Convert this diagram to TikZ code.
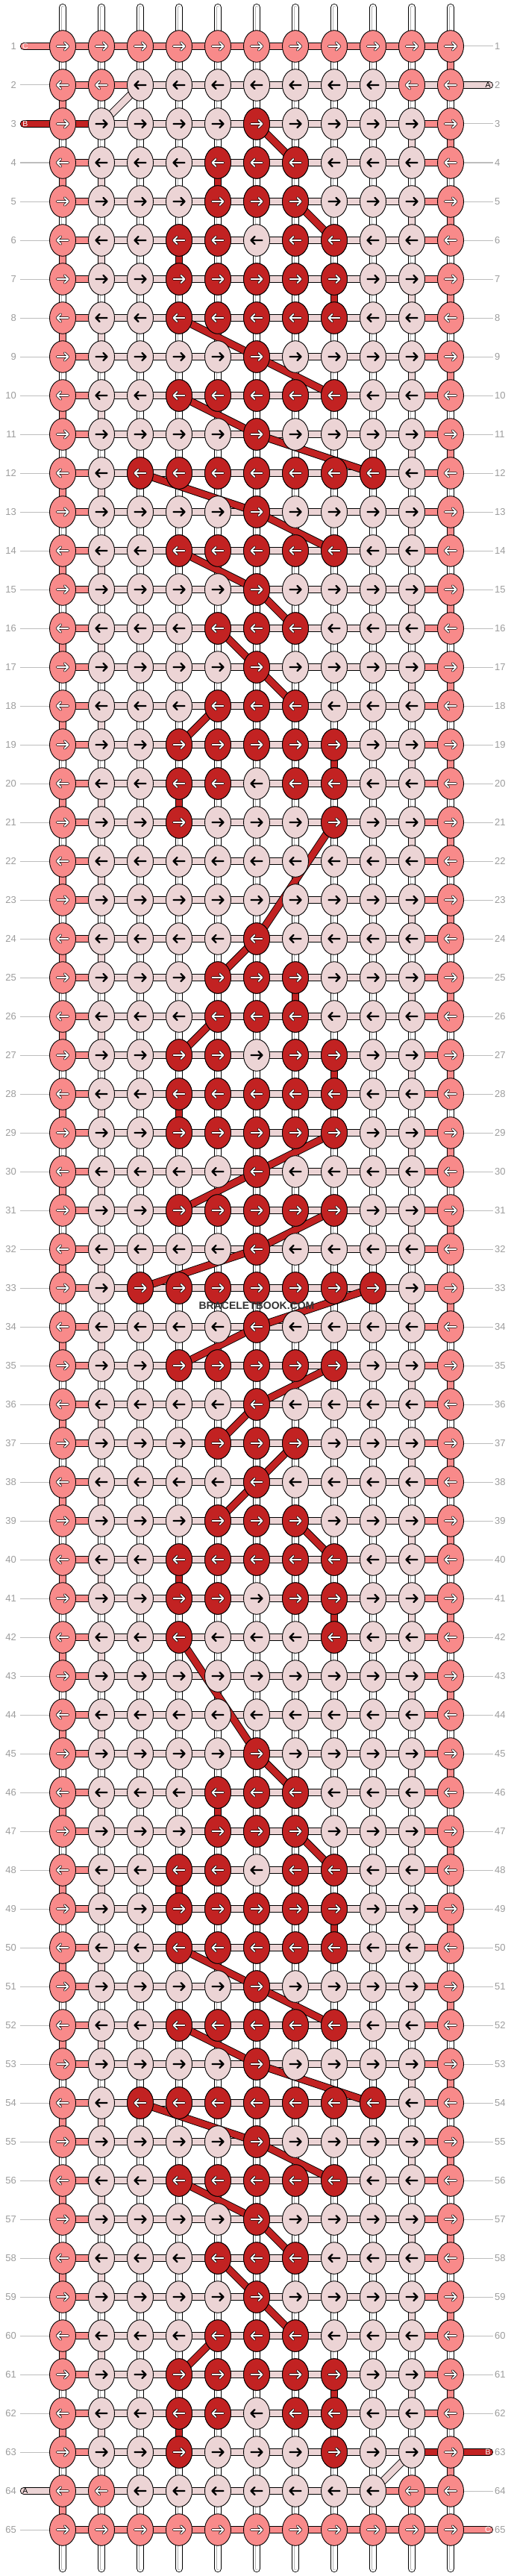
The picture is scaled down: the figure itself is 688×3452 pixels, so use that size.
\documentclass[tikz,border=0pt]{standalone}
\usepackage{fontspec}
\setmainfont{Liberation Sans}
\usetikzlibrary{shapes.geometric}
\definecolor{threadA}{HTML}{ECD4D5}
\definecolor{threadB}{HTML}{C22222}
\definecolor{threadC}{HTML}{F88A8A}
\definecolor{rowgray}{HTML}{9C9C9C}
\definecolor{linegray}{HTML}{BDBDBD}
\begin{document}
\begin{tikzpicture}[x=1pt, y=-1pt,
    band/.style={draw=black, line width=0.9pt, double=#1, double distance=8.5pt},
    basethread/.style={band=white, postaction={draw=black!30, line width=0.5pt, double=white, double distance=3pt}},
    knot/.style={ellipse, draw=black, line width=0.9pt, fill=#1, minimum width=35pt, minimum height=42.6pt, inner sep=0pt},
    darkarrow/.style={draw=black, line width=2.2pt, line cap=round, line join=round},
    lightarrow/.style={draw=black, line width=0.8pt, double=white, double distance=1.8pt, line cap=round, line join=round},
    rowlabel/.style={inner sep=0pt, text=rowgray, font=\fontsize{13}{13}\selectfont},
    rowline/.style={draw=linegray, line width=1pt},
    tailtext/.style={inner sep=0pt, font=\fontsize{10.5}{10.5}\selectfont}]

    \useasboundingbox (0,0) rectangle (688,3452);

    % grid of knot points
    \foreach \r in {1,...,65}
        \foreach \c in {1,...,11}
            \coordinate (p-\r-\c) at ({84+52*(\c-1)}, {62+52*(\r-1)});

    % white threads above and below
    \foreach \c in {1,...,11} {
        \coordinate (top-\c) at ({84+52*(\c-1)}, 10);
        \coordinate (bot-\c) at ({84+52*(\c-1)}, 3442);
        \draw[basethread, line cap=round] (top-\c) -- (p-1-\c);
        \draw[basethread, line cap=round] (p-65-\c) -- (bot-\c);
    }

    % threads between rows
    \foreach \r [evaluate=\r as \s using int(\r+1)] in {1,...,64}
        \foreach \c in {1,...,11}
            \draw[basethread] (p-\r-\c) -- (p-\s-\c);
    \foreach \r [evaluate=\r as \s using int(\r+1)] in {2,4,...,64}
        \draw[band=threadC] (p-\r-1) -- (p-\s-1);
    \foreach \r [evaluate=\r as \s using int(\r+1)] in {1,3,...,63}
        \draw[band=threadC] (p-\r-11) -- (p-\s-11);
    \foreach \r [evaluate=\r as \s using int(\r+1)] in {4,6,...,62}
        \draw[band=threadA] (p-\r-2) -- (p-\s-2);
    \foreach \r [evaluate=\r as \s using int(\r+1)] in {3,5,...,61}
        \draw[band=threadA] (p-\r-10) -- (p-\s-10);
    \foreach \r/\c [evaluate=\r as \s using int(\r+1)] in {4/5,6/4,7/8,19/8,20/4,25/7,27/8,28/4,40/4,41/8,46/5,48/4,49/8,61/8,62/4}
        \draw[band=threadB] (p-\r-\c) -- (p-\s-\c);

    % threads along the rows
    \foreach \r in {1,...,65} {
        \foreach \c [evaluate=\c as \d using int(\c+1)] in {1,...,10} {
            \pgfmathtruncatemacro\edge{(\c==1)||(\c==10)||(\r==1)||(\r==65)}
            \ifnum\edge=1 \def\hc{threadC}\else\def\hc{threadA}\fi
            \draw[band=\hc] (p-\r-\c) -- (p-\r-\d);
        }
    }
    \draw[band=threadC] (p-2-2) -- (p-2-3);
    \draw[band=threadA] (p-2-9) -- (p-2-11);
    \draw[band=threadB] (p-3-1) -- (p-3-2);
    \draw[band=threadB] (p-63-10) -- (p-63-11);
    \draw[band=threadA] (p-64-1) -- (p-64-3);
    \draw[band=threadC] (p-64-9) -- (p-64-10);

    % loose ends
    \coordinate (tail-1) at (32,62);
    \coordinate (tail-3) at (32,166);
    \coordinate (tail-64) at (32,3338);
    \coordinate (tail-2) at (656,114);
    \coordinate (tail-63) at (656,3286);
    \coordinate (tail-65) at (656,3390);
    \draw[band=threadC, line cap=round] (tail-1) -- (p-1-1);
    \draw[band=threadB, line cap=round] (tail-3) -- (p-3-1);
    \draw[band=threadA, line cap=round] (tail-64) -- (p-64-1);
    \draw[band=threadA, line cap=round] (p-2-11) -- (tail-2);
    \draw[band=threadB, line cap=round] (p-63-11) -- (tail-63);
    \draw[band=threadC, line cap=round] (p-65-11) -- (tail-65);

    % colour B moving between rows
    \foreach \ra/\ca/\rb/\cb in {3/6/4/7, 5/7/6/8, 8/4/9/6, 9/6/10/8, 10/4/11/6, 11/6/12/9, 12/3/13/6, 13/6/14/8, 14/4/15/6, 15/6/16/7, 16/5/17/6, 17/6/18/7, 18/5/19/4, 21/8/24/6, 24/6/25/5, 26/5/27/4, 29/8/30/6, 30/6/31/4, 31/8/32/6, 32/6/33/3, 33/9/34/6, 34/6/35/4, 35/8/36/6, 36/6/37/5, 37/7/38/6, 38/6/39/5, 39/7/40/8, 42/4/45/6, 45/6/46/7, 47/7/48/8, 50/4/51/6, 51/6/52/8, 52/4/53/6, 53/6/54/9, 54/3/55/6, 55/6/56/8, 56/4/57/6, 57/6/58/7, 58/5/59/6, 59/6/60/7, 60/5/61/4}
        \draw[band=threadB] (p-\ra-\ca) -- (p-\rb-\cb);
    \draw[band=threadA] (p-2-3) -- (p-3-2);
    \draw[band=threadA] (p-63-10) -- (p-64-9);

    % knots
    \foreach \r in {1,...,65} {
        \pgfmathtruncatemacro\dir{ifthenelse(mod(\r,2)==1,1,-1)}
        \foreach \c in {1,...,11} {
            \pgfmathtruncatemacro\edge{(\c==1)||(\c==11)||(\r==1)||(\r==65)||(((\r==2)||(\r==64))&&((\c==2)||(\c==10)))}
            \ifnum\edge=1
                \node[knot=threadC] (k-\r-\c) at (p-\r-\c) {};
                \draw[lightarrow, shift={(p-\r-\c)}, xscale=\dir] (-7.5,0) -- (7.5,0) (2.5,-5) -- (7.5,0) -- (2.5,5);
            \else
                \node[knot=threadA] (k-\r-\c) at (p-\r-\c) {};
                \draw[darkarrow, shift={(p-\r-\c)}, xscale=\dir] (-7.5,0) -- (7.5,0) (2.5,-5) -- (7.5,0) -- (2.5,5);
            \fi
        }
    }
    \foreach \r/\cols in {3/{6}, 4/{5,6,7}, 5/{5,6,7}, 6/{4,5,7,8}, 7/{4,...,8}, 8/{4,...,8}, 9/{6}, 10/{4,...,8}, 11/{6}, 12/{3,...,9}, 13/{6}, 14/{4,...,8}, 15/{6}, 16/{5,6,7}, 17/{6}, 18/{5,6,7}, 19/{4,...,8}, 20/{4,5,7,8}, 21/{4,8}, 24/{6}, 25/{5,6,7}, 26/{5,6,7}, 27/{4,5,7,8}, 28/{4,...,8}, 29/{4,...,8}, 30/{6}, 31/{4,...,8}, 32/{6}, 33/{3,...,9}, 34/{6}, 35/{4,...,8}, 36/{6}, 37/{5,6,7}, 38/{6}, 39/{5,6,7}, 40/{4,...,8}, 41/{4,5,7,8}, 42/{4,8}, 45/{6}, 46/{5,6,7}, 47/{5,6,7}, 48/{4,5,7,8}, 49/{4,...,8}, 50/{4,...,8}, 51/{6}, 52/{4,...,8}, 53/{6}, 54/{3,...,9}, 55/{6}, 56/{4,...,8}, 57/{6}, 58/{5,6,7}, 59/{6}, 60/{5,6,7}, 61/{4,...,8}, 62/{4,5,7,8}, 63/{4,8}} {
        \pgfmathtruncatemacro\dir{ifthenelse(mod(\r,2)==1,1,-1)}
        \foreach \c in \cols {
            \node[knot=threadB] (k-\r-\c) at (p-\r-\c) {};
            \draw[lightarrow, shift={(p-\r-\c)}, xscale=\dir] (-7.5,0) -- (7.5,0) (2.5,-5) -- (7.5,0) -- (2.5,5);
        }
    }

    % row numbers
    \foreach \r in {1,...,65} {
        \node[rowlabel, anchor=east] (lab-l-\r) at (22, {62+52*(\r-1)}) {\r};
        \node[rowlabel, anchor=west] (lab-r-\r) at (663, {62+52*(\r-1)}) {\r};
    }
    \foreach \r in {2,4,5,...,63,65} {
        \coordinate (ll-\r) at (27, {62+52*(\r-1)});
        \draw[rowline] (ll-\r) -- (k-\r-1);
    }
    \foreach \r in {1,3,4,...,62,64} {
        \coordinate (rl-\r) at (661, {62+52*(\r-1)});
        \draw[rowline] (k-\r-11) -- (rl-\r);
    }

    % thread letters
    \node[tailtext, text=white] (tl-1) at (34,62) {C};
    \node[tailtext, text=white] (tl-3) at (34,166) {B};
    \node[tailtext, text=black] (tl-64) at (34,3338) {A};
    \node[tailtext, text=black] (tl-2) at (654,114) {A};
    \node[tailtext, text=white] (tl-63) at (654,3286) {B};
    \node[tailtext, text=white] (tl-65) at (654,3390) {C};

    \node[inner sep=0pt, text=black!80, font=\bfseries\fontsize{14}{14}\selectfont] (mark) at (344,1750) {BRACELETBOOK.COM};
\end{tikzpicture}
\end{document}
